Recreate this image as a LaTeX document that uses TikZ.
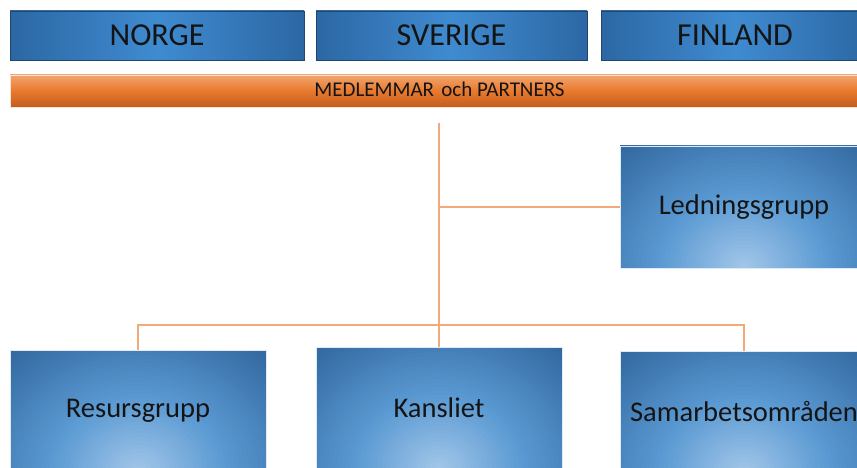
\documentclass[tikz,border=0pt]{standalone}
\usepackage{fontspec}
\setmainfont{Carlito}
\definecolor{blight}{HTML}{A5C8E9}
\definecolor{bmid}{HTML}{5B9AD3}
\definecolor{bdark}{HTML}{2A5E95}
\definecolor{tedge}{HTML}{2C67A4}
\definecolor{tmid}{HTML}{3F8BD0}
\definecolor{tborder}{HTML}{22476E}
\definecolor{otop}{HTML}{F2A570}
\definecolor{omid}{HTML}{E8792C}
\definecolor{obot}{HTML}{C25D1E}
\definecolor{conn}{RGB}{244,170,120}
\definecolor{txt}{HTML}{141414}
\newcommand{\shadebox}[4]{% centre x, centre y, width, height
  \begin{scope}
    \clip (#1-#3/2,#2-#4/2) rectangle (#1+#3/2,#2+#4/2);
    \fill[bdark] (#1-#3/2,#2-#4/2) rectangle (#1+#3/2,#2+#4/2);
    \foreach \i in {48,...,1}{%
      \pgfmathsetmacro{\dd}{1.4*\i/48}%
      \pgfmathsetmacro{\pa}{max(0,min(100,100*(1-\dd/0.55)))}%
      \pgfmathsetmacro{\pb}{max(0,min(100,100*(1-(\dd-0.55)/0.8)))}%
      \fill[color=blight!\pa!bmid!\pb!bdark] (#1,#2+#4/2) ellipse [x radius=\dd*0.62*#3, y radius=\dd*1.1*#4];
    }
  \end{scope}}
\begin{document}
\begin{tikzpicture}[x=1pt,y=-1pt,
  topbox/.style={draw=tborder, line width=0.7pt, left color=tedge, right color=tedge, middle color=tmid, inner sep=0pt, text=txt, font=\fontsize{32}{33}\selectfont},
  orgbox/.style={draw=white!80!bmid, line width=0.6pt, inner sep=0pt},
  boxtext/.style={text=txt, font=\fontsize{28.5}{29}\selectfont},
  conline/.style={draw=conn, line width=1.3pt}]
\useasboundingbox (0,0) rectangle (857,468);
\clip (0,0) rectangle (857,468);
% top country boxes
\node[topbox, minimum width=294pt, minimum height=49pt] (norge) at (157,35.5) {NORGE};
\node[topbox, minimum width=271pt, minimum height=49pt] (sverige) at (451.5,35.5) {SVERIGE};
\node[topbox, minimum width=268pt, minimum height=49pt] (finland) at (735,35.5) {FINLAND};
% orange bar
\node[draw=white!80!omid, line width=0.6pt, top color=otop, bottom color=obot, middle color=omid, minimum width=858pt, minimum height=32pt, inner sep=0pt] (medlem) at (439,91) {};
\node[text=txt, font=\fontsize{21}{22}\selectfont, inner sep=0pt] (medlemtext) at (439.5,89.5) {MEDLEMMAR\hspace{0.12em} och PARTNERS};
% org boxes (shading first, then framed nodes)
\shadebox{744}{207}{248}{122}
\shadebox{138}{411}{256}{122}
\shadebox{439}{408}{246}{122}
\shadebox{744}{412}{248}{122}
\node[orgbox, minimum width=248pt, minimum height=122pt, label={[boxtext]center:Ledningsgrupp}] (ledning) at (744,207) {};
\node[orgbox, minimum width=256pt, minimum height=122pt, label={[boxtext]center:Resursgrupp}] (resurs) at (138,411) {};
\node[orgbox, minimum width=246pt, minimum height=122pt, label={[boxtext]center:Kansliet}] (kansliet) at (439,408) {};
\node[orgbox, minimum width=248pt, minimum height=122pt, label={[boxtext]center:Samarbetsområden}] (samarbete) at (744,412) {};
% connectors
\coordinate (ctop) at (439,123);
\coordinate (cmid) at (439,325);
\draw[conline] (ctop) -- (kansliet.north);
\draw[conline] (ctop |- ledning.west) -- (ledning.west);
\draw[conline] (resurs.north) -- (resurs.north |- cmid) -- (cmid -| samarbete.north) -- (samarbete.north);
\end{tikzpicture}
\end{document}
